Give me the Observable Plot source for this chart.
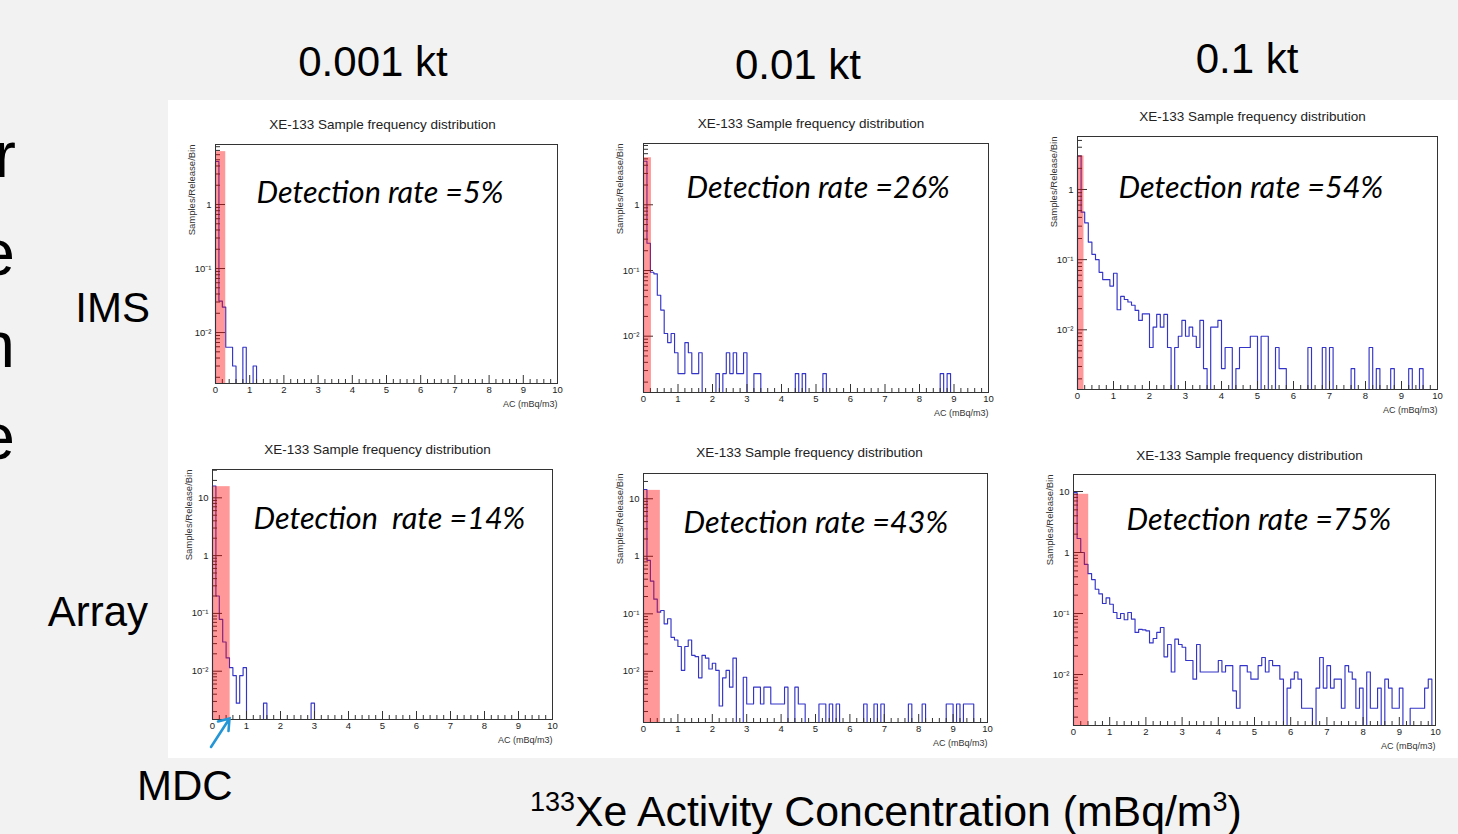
<!DOCTYPE html>
<html><head><meta charset="utf-8">
<script src="https://cdn.jsdelivr.net/npm/d3@7"></script>
<script src="https://cdn.jsdelivr.net/npm/@observablehq/plot@0.6"></script>
<style>
html,body{margin:0;padding:0;background:#f2f2f2;}
#stage{position:relative;width:1458px;height:834px;overflow:hidden;background:#f2f2f2;font-family:"Liberation Sans",Arial,sans-serif;}
#white{position:absolute;left:168px;top:100px;width:1290px;height:658px;background:#fff;}
#stage svg{position:absolute;}
</style></head><body><div id="stage"><div id="white"></div></div>
<script>
// ---------------- data ----------------
const BIN = 0.1; // mBq/m3 per histogram bin
const yieldLabels = ["0.001 kt", "0.01 kt", "0.1 kt"];
const networkLabels = ["IMS", "Array"];
const panelTitle = "XE-133 Sample frequency distribution";
const yAxisTitle = "Samples/Release/Bin";
const xAxisTitle = "AC (mBq/m3)";
const detectionText = ["Detection rate =5%", "Detection rate =26%", "Detection rate =54%",
                       "Detection\u00a0 rate =14%", "Detection rate =43%", "Detection rate =75%"];
const mdc = [0.30, 0.23, 0.18, 0.52, 0.49, 0.42];        // MDC band upper edge (mBq/m3)
const mdcHeight = [6.7, 5.2, 3.0, 15.6, 14, 9];          // MDC band height
const yMin = [0.0016, 0.00139, 0.00141, 0.00146, 0.00129, 0.00146];
const yMax = [8.66, 8.57, 5.69, 30.9, 27.5, 19];
const xTicks = [0, 1, 2, 3, 4, 5, 6, 7, 8, 9, 10];

// samples/release/bin, bins of 0.1 mBq/m3 starting at 0
const imsLow = [4.7, 0.031, 0.025, 0.0059, 0.0059, 0.003, 0, 0, 0.0059, 0,
                0, 0.003];
const imsMid = [
  4.6, 0.26, 0.094, 0.089, 0.042, 0.025, 0.011, 0.008, 0.011, 0.0056,
  0.0027, 0.0027, 0.008, 0.0056, 0.0027, 0.0027, 0.0056, 0, 0, 0,
  0, 0.0027, 0, 0.0027, 0.0056, 0.0027, 0.0056, 0.0027, 0.0027, 0.0056,
  0, 0, 0.0027, 0.0027, 0, 0, 0, 0, 0, 0,
  0, 0, 0, 0, 0.0027, 0, 0.0027, 0, 0, 0,
  0, 0, 0.0027, 0, 0, 0, 0, 0, 0, 0,
  0, 0, 0, 0, 0, 0, 0, 0, 0, 0,
  0, 0, 0, 0, 0, 0, 0, 0, 0, 0,
  0, 0, 0, 0, 0, 0, 0.0027, 0, 0.0027, 0];
const imsHigh = [
  3.0, 0.475, 0.335, 0.178, 0.119, 0.1, 0.066, 0.052, 0.052, 0.042,
  0.064, 0.0193, 0.030, 0.027, 0.0249, 0.0224, 0.0189, 0.0136, 0.0169, 0.0169,
  0.0056, 0.0109, 0.0166, 0.0109, 0.0166, 0.0056, 0, 0.0056, 0.0081, 0.0136,
  0.0081, 0.0109, 0.0081, 0.0056, 0.0136, 0.0028, 0, 0.0109, 0.0109, 0.0136,
  0.0028, 0.0056, 0.0056, 0, 0.0028, 0.0056, 0.0056, 0.0056, 0.0081, 0.0081,
  0, 0.0081, 0.0081, 0, 0, 0.0056, 0.0028, 0.0028, 0, 0,
  0, 0, 0, 0, 0.0056, 0, 0, 0, 0.0056, 0,
  0.0056, 0, 0, 0, 0, 0, 0.0028, 0, 0, 0,
  0, 0.0056, 0, 0.0028, 0, 0, 0, 0.0028, 0, 0,
  0, 0, 0.0028, 0, 0, 0.0028, 0, 0, 0, 0];
const arrayLow = [
  16, 0.2, 0.079, 0.032, 0.017, 0.0115, 0.0084, 0.0028, 0.0084, 0.0115,
  0, 0, 0, 0, 0, 0.0028, 0, 0, 0, 0,
  0, 0, 0, 0, 0, 0, 0, 0, 0, 0.0028];
const arrayMid = [
  14.5, 0.85, 0.37, 0.18, 0.107, 0.114, 0.067, 0.082, 0.039, 0.035,
  0.027, 0.0104, 0.027, 0.035, 0.019, 0.018, 0.0077, 0.019, 0.017, 0.011,
  0.0138, 0.0104, 0.0025, 0.0077, 0.0104, 0.0053, 0.017, 0, 0, 0.0079,
  0.0027, 0.0027, 0.0053, 0.0053, 0.0027, 0.0053, 0.0053, 0.0027, 0.0027, 0.0027,
  0.0027, 0.0053, 0, 0, 0.0053, 0.0027, 0.0027, 0, 0, 0,
  0, 0.0027, 0.0027, 0, 0.0027, 0, 0.0027, 0, 0, 0,
  0, 0, 0, 0, 0.0027, 0, 0, 0.0027, 0, 0.0027,
  0, 0, 0, 0, 0, 0, 0, 0.0027, 0, 0,
  0, 0.0027, 0, 0, 0, 0, 0, 0, 0.0027, 0.0027,
  0, 0.0027, 0, 0.0027, 0.0027, 0.0027, 0, 0, 0, 0];
const arrayHigh = [
  9.6, 1.7, 1.0, 0.64, 0.45, 0.36, 0.25, 0.21, 0.146, 0.18,
  0.142, 0.104, 0.083, 0.1, 0.079, 0.104, 0.081, 0.049, 0.055, 0.054,
  0.052, 0.033, 0.039, 0.049, 0.059, 0.0195, 0.031, 0.011, 0.038, 0.031,
  0.028, 0.017, 0.017, 0.0084, 0.031, 0.011, 0.011, 0.011, 0.011, 0.011,
  0.017, 0.011, 0.014, 0.014, 0.0054, 0.0028, 0.014, 0.014, 0.011, 0.0084,
  0.0084, 0.014, 0.019, 0.011, 0.017, 0.014, 0.014, 0.0084, 0, 0.006,
  0.0084, 0.011, 0.0084, 0.0028, 0.0028, 0.0028, 0, 0.006, 0.019, 0.006,
  0.014, 0.006, 0.0084, 0.0084, 0.0028, 0.014, 0.011, 0.0084, 0.0028, 0.006,
  0, 0.011, 0.0028, 0.0028, 0.006, 0, 0.0084, 0.006, 0.0028, 0.0028,
  0.006, 0, 0, 0.0028, 0.0028, 0.0028, 0.0028, 0.006, 0.0084, 0];

// ---------------- layout ----------------
const frames = [
  {L: 215, T: 144, R: 557, B: 383, tdx: -4, tdy: -15.5, ddx: 41, ddy: 58},
  {L: 643, T: 143, R: 988, B: 392, tdx: -5, tdy: -15.5, ddx: 43, ddy: 54},
  {L: 1077, T: 136, R: 1437, B: 389, tdx: -5, tdy: -16, ddx: 41, ddy: 61},
  {L: 212, T: 469, R: 552, B: 719, tdx: -5, tdy: -15.5, ddx: 41, ddy: 59},
  {L: 643, T: 473, R: 987, B: 722, tdx: -6, tdy: -16.5, ddx: 40, ddy: 59},
  {L: 1073, T: 474, R: 1435, B: 725, tdx: -5, tdy: -14.5, ddx: 53, ddy: 55}
];
const hists = [imsLow, imsMid, imsHigh, arrayLow, arrayMid, arrayHigh];
const stage = document.getElementById("stage");
const sup = {"-1": "\u207b\u00b9", "-2": "\u207b\u00b2", "-3": "\u207b\u00b3"};
const fmtY = v => v >= 1 ? String(Math.round(v)) : "10" + sup[String(Math.round(Math.log10(v)))];

hists.forEach((values, i) => {
  const f = frames[i];
  const ML = 50, MR = 15, MT = 40, MB = 32;
  const y0 = yMin[i], y1 = yMax[i];
  const pts = [{x: 0, y: y0}]
    .concat(values.map((v, j) => ({x: j * BIN, y: v > 0 ? v : y0})))
    .concat([{x: values.length * BIN, y: y0}]);
  const yMajor = [0.01, 0.1, 1, 10].filter(v => v >= y0 && v <= y1);
  const yMinor = d3.range(-3, 2).flatMap(e => d3.range(2, 10).map(k => k * 10 ** e)).filter(v => v >= y0 && v <= y1);
  const xMinor = d3.range(0, 50).map(k => k * 0.2).filter(v => Math.abs(v - Math.round(v)) > 1e-6);
  const svg = Plot.plot({
    width: f.R - f.L + ML + MR,
    height: f.B - f.T + MT + MB,
    marginLeft: ML, marginRight: MR, marginTop: MT, marginBottom: MB,
    style: {background: "transparent", overflow: "visible", fontFamily: "'Liberation Sans', Arial, sans-serif", fontSize: "9px", color: "#222"},
    x: {domain: [0, 10], label: null},
    y: {type: "log", domain: [y0, y1], label: null},
    marks: [
      Plot.line(pts, {x: "x", y: "y", curve: "step-after", stroke: "#3434c8", strokeWidth: 1.15}),
      Plot.axisX({ticks: xTicks, tickSize: -8, tickFormat: () => "", stroke: "#333"}),
      Plot.axisX({ticks: xMinor, tickSize: -4, tickFormat: () => "", stroke: "#333"}),
      Plot.axisX({ticks: xTicks, tickSize: 0, tickPadding: 3, tickFormat: d => String(d), fontSize: 9.5}),
      Plot.axisY({ticks: yMajor, tickSize: -10, tickFormat: () => "", stroke: "#333"}),
      Plot.axisY({ticks: yMinor, tickSize: -5, tickFormat: () => "", stroke: "#333"}),
      Plot.axisY({ticks: yMajor, tickSize: 0, tickPadding: 4, tickFormat: fmtY, fontSize: 9.5}),
      Plot.rect([i], {x1: () => 0, x2: d => mdc[d], y1: () => y0, y2: d => mdcHeight[d], fill: "#ff0000", fillOpacity: 0.4}),
      Plot.frame({stroke: "#333", strokeWidth: 1}),
      Plot.text([panelTitle], {frameAnchor: "top", dx: f.tdx, dy: f.tdy, lineAnchor: "bottom", fontSize: 13.5, fill: "#222"}),
      Plot.text([yAxisTitle], {frameAnchor: "top-left", rotate: -90, textAnchor: "end", lineAnchor: "middle", dx: -24, fontSize: 9.5, fill: "#333"}),
      Plot.text([xAxisTitle], {frameAnchor: "bottom-right", textAnchor: "end", lineAnchor: "middle", dy: 21, fontSize: 9, fill: "#333"}),
      Plot.text([detectionText[i]], {frameAnchor: "top-left", textAnchor: "start", lineAnchor: "bottom", dx: f.ddx, dy: f.ddy,
        fontSize: 30.5, fontStyle: "italic", fontFamily: "Lato, 'Open Sans', sans-serif", fill: "#000"})
    ]
  });
  svg.style.left = (f.L - ML) + "px";
  svg.style.top = (f.T - MT) + "px";
  stage.appendChild(svg);
});

// ---------------- slide annotations ----------------
const ov = d3.select(stage).append("svg")
  .attr("width", 1458).attr("height", 834)
  .style("left", "0px").style("top", "0px")
  .style("font-family", "'Liberation Sans', Arial, sans-serif");
const headerPos = [{x: 373, y: 76}, {x: 798, y: 79}, {x: 1247, y: 73}];
yieldLabels.forEach((t, k) => ov.append("text").attr("x", headerPos[k].x).attr("y", headerPos[k].y)
  .attr("text-anchor", "middle").attr("font-size", 42).text(t));
const rowPos = [{x: 150, y: 322}, {x: 148, y: 626}];
networkLabels.forEach((t, k) => ov.append("text").attr("x", rowPos[k].x).attr("y", rowPos[k].y)
  .attr("text-anchor", "end").attr("font-size", 42).text(t));
ov.append("text").attr("x", 137).attr("y", 800).attr("font-size", 42).text("MDC");
const bt = ov.append("text").attr("x", 530).attr("y", 826).attr("font-size", 42.8);
bt.append("tspan").attr("font-size", 27).attr("dy", -15).text("133");
bt.append("tspan").attr("dy", 15).text("Xe Activity Concentration (mBq/m");
bt.append("tspan").attr("font-size", 27).attr("dy", -15).text("3");
bt.append("tspan").attr("dy", 15).text(")");
// clipped slide text at left edge
[["r", 16, 177], ["e", 15, 275], ["n", 15, 367], ["e", 15, 459]].forEach(([t, x, y]) =>
  ov.append("text").attr("x", x).attr("y", y).attr("text-anchor", "end").attr("font-size", 65).text(t));
// MDC arrow
ov.append("path").attr("d", "M211,747L229.5,718.5M218,721.5L229.5,718.5L228.5,731")
  .attr("fill", "none").attr("stroke", "#2496d6").attr("stroke-width", 2.6).attr("stroke-linecap", "round");
</script>
</body></html>
